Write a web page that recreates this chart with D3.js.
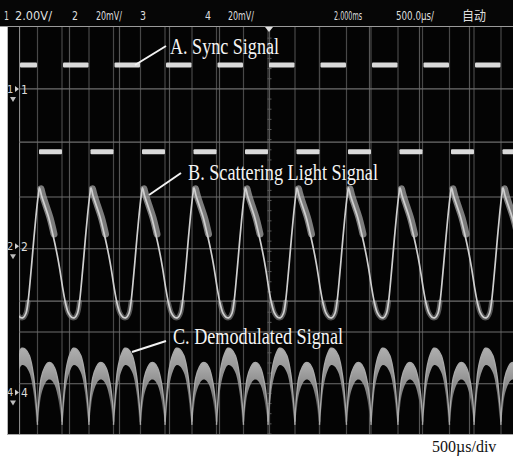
<!DOCTYPE html>
<html><head><meta charset="utf-8">
<script src="https://cdn.jsdelivr.net/npm/d3@7"></script>
<style>html,body{margin:0;padding:0;background:#fff;} svg{display:block;}</style>
</head><body>
<svg id="c" width="513" height="457"></svg>
<script>
// ================= DATA =================
// horizontal: microseconds across the screen (500 µs/div, 10 div)
const gridTimes = [0, 500, 1000, 1500, 2000, 2500, 3000, 3500, 4000, 4500, 5000];
// horizontal trace/reference lines, in divisions (8 div vertical, centre = 0)
const refLevels = [2.80, 1.75, 0.67, -0.35, -1.38, -1.99, -3.01];
// sync (A) edges in µs
const syncRise = [-85, 430, 945, 1460, 1975, 2490, 3005, 3520, 4035, 4550, 5065];
const syncFall = [185, 700, 1215, 1730, 2245, 2760, 3275, 3790, 4305, 4820];
const syncHighLevel = 3.27;      // div
const refSquareLevel = 1.56;     // div (square above trace B)
// B: scattering light signal, peak times (µs) and one sampled cycle (dt µs, div)
const bPeaks = [-310, 205, 720, 1235, 1750, 2265, 2780, 3295, 3810, 4325, 4840];
const bCycleT = [0, 20, 50, 90, 130, 170, 200, 230, 260, 290, 320, 350, 380, 400, 420, 440, 460, 480, 500, 515];
const bCycleV = [0.85, 0.70, 0.52, 0.28, -0.04, -0.40, -0.72, -1.10, -1.42, -1.62, -1.70, -1.71, -1.62, -1.40, -1.02, -0.58, -0.12, 0.30, 0.66, 0.85];
// C: demodulated signal, humps between sync edges (phase 0..1, div)
const cPhase = [0, 0.06, 0.15, 0.3, 0.42, 0.55, 0.7, 0.85, 0.95, 1];
const cBigV   = [-3.82, -3.29, -2.74, -2.42, -2.31, -2.33, -2.46, -2.84, -3.39, -3.82];
const cSmallV = [-3.76, -3.29, -2.90, -2.68, -2.60, -2.60, -2.70, -2.98, -3.35, -3.76];
// texts
const headerLabels = ["1", "2.00V/", "2", "20mV/", "3", "4", "20mV/", "2.000ms", "500.0µs/", "自动"];
const annotations = ["A. Sync Signal", "B. Scattering Light Signal", "C. Demodulated Signal"];
const channelLabels = ["1", "2", "4"];
const channelLevels = [2.80, -0.30, -3.18];
const timebaseLabel = "500µs/div";

// ================= DRAW =================
const svg = d3.select("#c");
const x = d3.scaleLinear().domain([0, 5000]).range([19, 519]);
const y = d3.scaleLinear().domain([4, -4]).range([28, 434]);

const defs = svg.append("defs");
const grad = defs.append("linearGradient").attr("id", "band").attr("x1", 0).attr("y1", 0).attr("x2", 0).attr("y2", 1);
grad.append("stop").attr("offset", 0).attr("stop-color", "#c2c2c2");
grad.append("stop").attr("offset", 0.55).attr("stop-color", "#8a8a8a");
grad.append("stop").attr("offset", 1).attr("stop-color", "#2a2a2a");

// header bar
svg.append("rect").attr("x", 0).attr("y", 0).attr("width", 513).attr("height", 26.5).attr("fill", "#060606");
svg.append("line").attr("x1", 0).attr("x2", 513).attr("y1", 26.5).attr("y2", 26.5).attr("stroke", "#9a9a9a");
const headerX = [4, 15, 72, 96, 140, 205, 228, 334, 396, 462];
const headerW = [5, 37, 6, 26, 6, 6, 26, 28, 38, 24];
svg.selectAll("text.hdr").data(headerLabels).join("text").attr("class", "hdr")
  .attr("x", (d, i) => headerX[i]).attr("y", 20)
  .attr("textLength", (d, i) => headerW[i]).attr("lengthAdjust", "spacingAndGlyphs")
  .attr("font-family", "'DejaVu Sans Condensed','Liberation Sans Narrow','Noto Sans CJK SC',sans-serif")
  .attr("font-size", 13).attr("fill", "#dedede").text(d => d);

// screen
svg.append("rect").attr("x", 7).attr("y", 27).attr("width", 506).attr("height", 407).attr("fill", "#040404");
svg.append("line").attr("x1", 7.5).attr("x2", 7.5).attr("y1", 27).attr("y2", 434).attr("stroke", "#b5b5b5");
svg.append("line").attr("x1", 7).attr("x2", 513).attr("y1", 434.5).attr("y2", 434.5).attr("stroke", "#a8a8a8");

const clip = defs.append("clipPath").attr("id", "scr");
clip.append("rect").attr("x", x(0)).attr("y", 27).attr("width", 513 - x(0)).attr("height", 407);
const g = svg.append("g").attr("clip-path", "url(#scr)");

// graticule verticals
g.selectAll("line.gv").data(gridTimes).join("line").attr("class", "gv")
  .attr("x1", d => x(d) + 0.5).attr("x2", d => x(d) + 0.5).attr("y1", 27).attr("y2", 434)
  .attr("stroke", (d, i) => i === 0 ? "#8a8a8a" : "#555").attr("stroke-width", 1.2);
// edge verticals of square waves
g.selectAll("line.ev").data(syncRise.concat(syncFall)).join("line").attr("class", "ev")
  .attr("x1", d => x(d)).attr("x2", d => x(d)).attr("y1", 27).attr("y2", 434)
  .attr("stroke", "#484848").attr("stroke-width", 1.2);
// horizontal reference lines
g.selectAll("line.hz").data(refLevels).join("line").attr("class", "hz")
  .attr("x1", x(0)).attr("x2", 513).attr("y1", d => y(d)).attr("y2", d => y(d))
  .attr("stroke", "#6e6e6e").attr("stroke-width", 1.2);
// minor ticks on centre vertical
g.selectAll("line.mt").data(d3.range(-4, 4.01, 0.2)).join("line").attr("class", "mt")
  .attr("x1", x(2500) - 1.5).attr("x2", x(2500) + 2.5).attr("y1", d => y(d)).attr("y2", d => y(d))
  .attr("stroke", "#5a5a5a");
// trigger marker
svg.append("path").attr("d", `M${x(2500)-4},27 L${x(2500)+4},27 L${x(2500)},32 Z`).attr("fill", "#e0e0e0");

// square-wave high segments
const syncIntervals = [[0, syncFall[0]]].concat(syncRise.slice(1).map((r, i) => [r, syncFall[i + 1]]).filter(d => d[1] !== undefined));
const refIntervals = syncFall.map((f, i) => [f, syncRise[i + 1]]);
g.selectAll("rect.sd").data(syncIntervals).join("rect").attr("class", "sd")
  .attr("x", d => x(d[0]) + 1).attr("width", d => x(d[1]) - x(d[0]) - 1.5)
  .attr("y", y(syncHighLevel) - 2.5).attr("height", 5).attr("rx", 1).attr("fill", "#dadada");
g.selectAll("rect.rd").data(refIntervals).join("rect").attr("class", "rd")
  .attr("x", d => x(d[0]) + 1.5).attr("width", d => x(d[1]) - x(d[0]) - 1.5)
  .attr("y", y(refSquareLevel) - 2.5).attr("height", 5).attr("rx", 1).attr("fill", "#dadada");

const curve = d3.curveCatmullRom.alpha(0.5);
// B waveform
const bPts = [];
bPeaks.forEach((p, j) => bCycleT.forEach((t, i) => { if (i < bCycleT.length - 1 || j === bPeaks.length - 1) bPts.push([p + t, bCycleV[i]]); }));
const lineB = d3.line().x(d => x(d[0])).y(d => y(d[1])).curve(curve);
bPeaks.forEach(p => {
  const top = bCycleT.map((t, i) => [p + t, bCycleV[i]]).filter(d => d[0] - p <= 130);
  g.append("path").attr("d", lineB(top)).attr("fill", "none").attr("stroke", "#a4a4a4")
    .attr("stroke-width", 7).attr("stroke-opacity", 0.75).attr("stroke-linecap", "round").attr("transform", "translate(1.5,1)");
  const bot = bCycleT.map((t, i) => [p + t, bCycleV[i]]).filter(d => d[0] - p >= 260 && d[0] - p <= 400);
  g.append("path").attr("d", lineB(bot)).attr("fill", "none").attr("stroke", "#8a8a8a")
    .attr("stroke-width", 5).attr("stroke-opacity", 0.6).attr("stroke-linecap", "round");
});
g.append("path").attr("d", lineB(bPts)).attr("fill", "none").attr("stroke", "#cfcfcf").attr("stroke-width", 1.7);

// C waveform: humps between consecutive edges
const edges = syncRise.concat(syncFall).sort((a, b) => a - b);
const lineC = d3.line().x(d => x(d[0])).y(d => y(d[1])).curve(curve);
const areaC = d3.area().x(d => x(d[0])).y0(d => y(d[1])).y1(d => y(d[1]) + 17).curve(curve);
for (let i = 0; i < edges.length - 1; i++) {
  const a = edges[i], b = edges[i + 1];
  const big = syncRise.includes(a);
  const vals = big ? cBigV : cSmallV;
  const pts = cPhase.map((p, k) => [a + p * (b - a), vals[k]]);
  const mid = pts.filter((d, k) => cPhase[k] >= 0.06 && cPhase[k] <= 0.95);
  g.append("path").attr("d", areaC(mid)).attr("fill", "url(#band)").attr("fill-opacity", 0.9);
  g.append("path").attr("d", lineC(pts)).attr("fill", "none").attr("stroke", "#a8a8a8").attr("stroke-width", 1.4);
}

// channel markers
channelLabels.forEach((c, i) => {
  const yy = y(channelLevels[i]);
  svg.append("text").attr("x", 7).attr("y", yy + 4).attr("font-family", "'DejaVu Sans Condensed',sans-serif")
    .attr("font-size", 11).attr("fill", "#cfcfcf").text(c);
  svg.append("path").attr("d", `M15,${yy - 3} L19,${yy} L15,${yy + 3} Z`).attr("fill", "#cfcfcf");
  svg.append("text").attr("x", 21).attr("y", yy + 5).attr("font-family", "'DejaVu Sans Condensed',sans-serif")
    .attr("font-size", 12).attr("fill", "#dcdcdc").text(c);
  svg.append("path").attr("d", `M10,${yy + 8} L16,${yy + 8} L13,${yy + 13} Z`).attr("fill", "#bdbdbd");
});

// annotations
const annX = [170, 188, 173], annY = [54, 180, 344], annW = [109, 190, 170];
const leaders = [[[135, 65], [166, 46]], [[149, 195], [181, 173]], [[132, 352], [166, 341]]];
annotations.forEach((t, i) => {
  svg.append("line").attr("x1", leaders[i][0][0]).attr("y1", leaders[i][0][1])
    .attr("x2", leaders[i][1][0]).attr("y2", leaders[i][1][1]).attr("stroke", "#f2f2f2").attr("stroke-width", 2);
  svg.append("text").attr("x", annX[i]).attr("y", annY[i]).attr("textLength", annW[i]).attr("lengthAdjust", "spacingAndGlyphs")
    .attr("font-family", "'Liberation Serif','Times New Roman',serif").attr("font-size", 23)
    .attr("fill", "#f4f4f4").text(t);
});

// timebase label
svg.append("text").attr("x", 432).attr("y", 452).attr("font-family", "'Liberation Serif','Times New Roman',serif")
  .attr("font-size", 16).attr("fill", "#111").text(timebaseLabel);
</script>
</body></html>
